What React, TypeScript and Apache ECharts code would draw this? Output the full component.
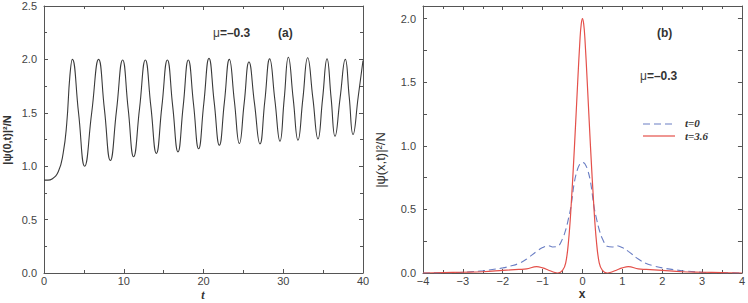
import React, { useEffect, useRef } from "react";
import * as echarts from "echarts";

// Panel (a): central density |ψ(0,t)|²/N against time t
const times = [
  0, 0.5, 1.0, 1.8, 2.4, 2.85, 3.25, 3.55, 4.33, 5.1, 5.98, 6.85, 7.58, 8.32, 9.09, 9.86,
  10.55, 11.24, 11.98, 12.71, 13.4, 14.09, 14.78, 15.47, 16.14, 16.8, 17.45, 18.1, 18.75,
  19.39, 20.04, 20.69, 21.34, 21.99, 22.62, 23.24, 23.87, 24.5, 25.1, 25.7, 26.39, 27.08,
  27.69, 28.3, 28.95, 29.59, 30.12, 30.64, 31.25, 31.85, 32.46, 33.06, 33.71, 34.36, 34.93,
  35.49, 36.0, 36.49, 37.13, 37.78, 38.27, 38.75, 39.4, 40,
];
const centralDensity = [
  0.87, 0.87, 0.88, 0.95, 1.12, 1.4, 1.85, 2.0, 1.5, 1.0, 1.5, 2.0, 1.53, 1.053, 1.52, 1.995,
  1.54, 1.088, 1.54, 1.995, 1.56, 1.12, 1.56, 1.995, 1.56, 1.134, 1.56, 1.995, 1.58,
  1.163, 1.59, 2.01, 1.6, 1.197, 1.6, 2.0, 1.61, 1.212, 1.59, 1.975, 1.59, 1.209,
  1.61, 2.005, 1.62, 1.234, 1.63, 2.02, 1.63, 1.244, 1.63, 2.015, 1.64, 1.256, 1.63,
  2.005, 1.64, 1.28, 1.64, 2.0, 1.65, 1.297, 1.65, 1.99,
];

// Panel (b): density profiles |ψ(x,t)|²/N at t=0 and t=3.6
const positions = [
  -4, -3.5, -3, -2.5, -2, -1.8, -1.6, -1.4, -1.15, -1.0, -0.85, -0.75, -0.62, -0.5, -0.42,
  -0.35, -0.29, -0.2, -0.12, -0.06, -0.03, 0, 0.03, 0.06, 0.12, 0.2, 0.29, 0.35, 0.42, 0.5,
  0.62, 0.75, 0.85, 1.0, 1.15, 1.4, 1.6, 1.8, 2, 2.5, 3, 3.5, 4,
];
const densityT0 = [
  0.0, 0.002, 0.006, 0.018, 0.04, 0.055, 0.075, 0.11, 0.17, 0.2, 0.215, 0.205, 0.21, 0.27, 0.34,
  0.43, 0.52, 0.72, 0.82, 0.86, 0.868, 0.87, 0.868, 0.86, 0.82, 0.72, 0.52, 0.43, 0.34, 0.27,
  0.21, 0.205, 0.215, 0.2, 0.17, 0.11, 0.075, 0.055, 0.04, 0.018, 0.006, 0.002, 0.0,
];
const densityT36 = [
  0.0, 0.003, 0.006, 0.01, 0.02, 0.024, 0.028, 0.032, 0.05, 0.04, 0.022, 0.01, 0.0, 0.02, 0.08,
  0.25, 0.5, 1.0, 1.5, 1.85, 1.96, 2.0, 1.96, 1.85, 1.5, 1.0, 0.5, 0.25, 0.08, 0.02,
  0.0, 0.01, 0.022, 0.04, 0.05, 0.032, 0.028, 0.024, 0.02, 0.01, 0.006, 0.003, 0.0,
];

const xTicksA = [0, 10, 20, 30, 40];
const yTicksA = [0, 0.5, 1.0, 1.5, 2.0, 2.5];
const xTicksB = [-4, -3, -2, -1, 0, 1, 2, 3, 4];
const yTicksB = [0, 0.5, 1.0, 1.5, 2.0];

const SANS = "'Liberation Sans', Arial, sans-serif";
const SERIF = "'Liberation Serif', 'Times New Roman', serif";
const AXIS_COLOR = "#555";
const LABEL_COLOR = "#444";
const BLUE = "#6a7ec4";
const RED = "#e4504a";

function pairs(xs: number[], ys: number[]) {
  return xs.map((x, i) => [x, ys[i]]);
}

function frameAxis(
  kind: "x" | "y",
  grid: number,
  position: string,
  min: number,
  max: number,
  interval: number,
  labels: boolean,
  minorSplit: number,
  formatter?: (v: number) => string
) {
  return {
    type: "value",
    gridIndex: grid,
    position,
    min,
    max,
    interval,
    splitLine: { show: false },
    axisLine: { show: true, onZero: false, lineStyle: { color: AXIS_COLOR, width: 1 } },
    axisTick: { show: true, inside: true, length: 4, lineStyle: { color: AXIS_COLOR } },
    minorTick: {
      show: minorSplit > 1,
      splitNumber: minorSplit,
      length: 3,
      lineStyle: { color: AXIS_COLOR },
    },
    axisLabel: {
      show: labels,
      color: LABEL_COLOR,
      fontFamily: SANS,
      fontSize: 11,
      margin: kind === "x" ? 2 : 7,
      formatter,
    },
  };
}

const legendText = (y: number, text: string) => ({
  type: "text",
  x: 685,
  y,
  style: {
    text,
    fontFamily: SERIF,
    fontStyle: "italic",
    fontWeight: "bold",
    fontSize: 11,
    fill: "#333",
    verticalAlign: "middle",
  },
});

export default function App() {
  const ref = useRef<HTMLDivElement>(null);

  useEffect(() => {
    if (!ref.current) return;
    const chart = echarts.init(ref.current, null, { renderer: "svg" });

    const fmtA = (v: number) => (Number.isInteger(v) ? String(v) : v.toFixed(1));
    const fmtY = (v: number) => (yTicksA.includes(v) ? v.toFixed(1) : "");
    const fmtYB = (v: number) => (yTicksB.includes(v) ? v.toFixed(1) : "");
    const fmtXB = (v: number) =>
      xTicksB.includes(v) ? (v < 0 ? "\u2212" + Math.abs(v) : String(v)) : "";

    chart.setOption({
      animation: false,
      backgroundColor: "#ffffff",
      grid: [
        { left: 44, top: 6, width: 319, height: 267 },
        { left: 423, top: 6, width: 319, height: 267 },
      ],
      xAxis: [
        frameAxis("x", 0, "bottom", xTicksA[0], xTicksA[xTicksA.length - 1], 10, true, 2, fmtA),
        frameAxis("x", 0, "top", xTicksA[0], xTicksA[xTicksA.length - 1], 10, false, 2),
        frameAxis("x", 1, "bottom", xTicksB[0], xTicksB[xTicksB.length - 1], 1, true, 2, fmtXB),
        frameAxis("x", 1, "top", xTicksB[0], xTicksB[xTicksB.length - 1], 1, false, 2),
      ],
      yAxis: [
        frameAxis("y", 0, "left", 0, 2.5, 0.5, true, 2, fmtY),
        frameAxis("y", 0, "right", 0, 2.5, 0.5, false, 2),
        frameAxis("y", 1, "left", 0, 2.1, 0.25, true, 1, fmtYB),
        frameAxis("y", 1, "right", 0, 2.1, 0.25, false, 1),
      ],
      series: [
        {
          type: "line",
          name: "central",
          xAxisIndex: 0,
          yAxisIndex: 0,
          data: pairs(times, centralDensity),
          smooth: 0.5,
          symbol: "none",
          lineStyle: { color: "#3a3a3a", width: 1.1 },
        },
        {
          type: "line",
          name: "t=0",
          xAxisIndex: 2,
          yAxisIndex: 2,
          data: pairs(positions, densityT0),
          smooth: 0.4,
          symbol: "none",
          lineStyle: { color: BLUE, width: 1.1, type: [7, 4] },
        },
        {
          type: "line",
          name: "t=3.6",
          xAxisIndex: 2,
          yAxisIndex: 2,
          data: pairs(positions, densityT36),
          smooth: 0.4,
          symbol: "none",
          lineStyle: { color: RED, width: 1.2 },
        },
      ],
      graphic: [
        {
          type: "text",
          x: 7,
          y: 140,
          rotation: Math.PI / 2,
          style: {
            text: "|\u03c8(0,t)|\u00b2/N",
            fontFamily: SANS,
            fontWeight: "bold",
            fontSize: 11,
            fill: "#333",
            align: "center",
            verticalAlign: "middle",
          },
        },
        {
          type: "text",
          x: 380,
          y: 160,
          rotation: Math.PI / 2,
          style: {
            text: "|\u03c8(x,t)|\u00b2/N",
            fontFamily: SANS,
            fontSize: 13,
            fill: "#333",
            align: "center",
            verticalAlign: "middle",
          },
        },
        {
          type: "text",
          x: 203,
          y: 295,
          style: {
            text: "t",
            fontFamily: SERIF,
            fontStyle: "italic",
            fontWeight: "bold",
            fontSize: 12,
            fill: "#333",
            align: "center",
            verticalAlign: "middle",
          },
        },
        {
          type: "text",
          x: 582,
          y: 294,
          style: {
            text: "x",
            fontFamily: SANS,
            fontWeight: "bold",
            fontSize: 12,
            fill: "#333",
            align: "center",
            verticalAlign: "middle",
          },
        },
        {
          type: "text",
          x: 213,
          y: 33,
          style: {
            text: "{m|\u03bc}{v|=\u20130.3}",
            verticalAlign: "middle",
            rich: {
              m: { fontFamily: SANS, fontSize: 12, fill: "#444" },
              v: { fontFamily: SANS, fontSize: 12, fontWeight: "bold", fill: "#333" },
            },
          },
        },
        {
          type: "text",
          x: 278,
          y: 33,
          style: {
            text: "(a)",
            fontFamily: SANS,
            fontWeight: "bold",
            fontSize: 12,
            fill: "#333",
            verticalAlign: "middle",
          },
        },
        {
          type: "text",
          x: 657,
          y: 33,
          style: {
            text: "(b)",
            fontFamily: SANS,
            fontWeight: "bold",
            fontSize: 12,
            fill: "#333",
            verticalAlign: "middle",
          },
        },
        {
          type: "text",
          x: 640,
          y: 76,
          style: {
            text: "{m|\u03bc}{v|=\u20130.3}",
            verticalAlign: "middle",
            rich: {
              m: { fontFamily: SANS, fontSize: 12, fill: "#444" },
              v: { fontFamily: SANS, fontSize: 12, fontWeight: "bold", fill: "#333" },
            },
          },
        },
        // legend keys for the two profiles
        {
          type: "line",
          shape: { x1: 643, y1: 124, x2: 675, y2: 124 },
          style: { stroke: BLUE, lineWidth: 1.1, lineDash: [7, 4] },
        },
        {
          type: "line",
          shape: { x1: 643, y1: 136, x2: 675, y2: 136 },
          style: { stroke: RED, lineWidth: 1.2 },
        },
        legendText(123, "t=0"),
        legendText(136, "t=3.6"),
      ],
    });

    return () => chart.dispose();
  }, []);

  return (
    <div
      ref={ref}
      style={{ position: "absolute", left: 0, top: 0, width: 748, height: 303, background: "#fff" }}
    />
  );
}
